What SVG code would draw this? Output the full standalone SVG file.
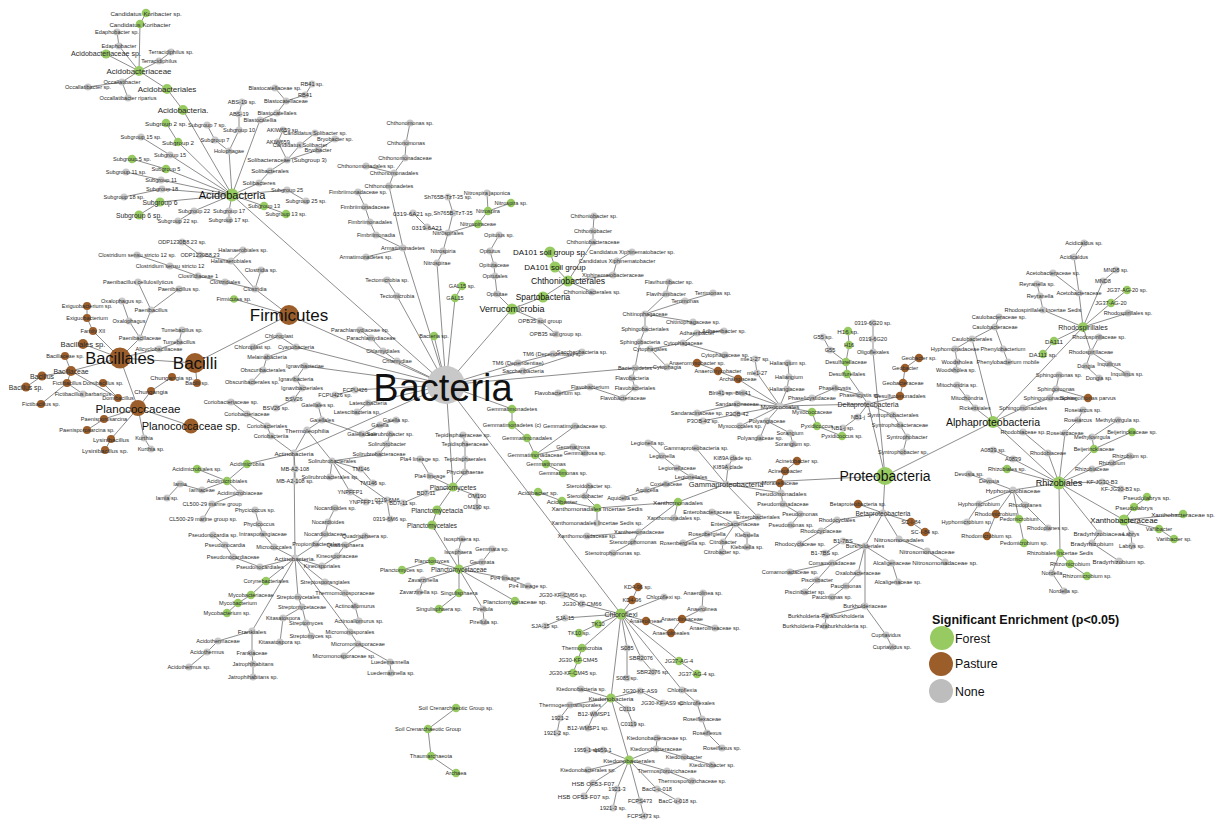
<svg xmlns="http://www.w3.org/2000/svg" width="1215" height="821" viewBox="0 0 1215 821">
<style>
text{font-family:"Liberation Sans",Arial,sans-serif;text-anchor:middle;dominant-baseline:central;fill:#2b2b2b}
#nodes{font-size:5.6px}
.c{font-size:6.2px}
.k{fill:#111}
.g{fill:#c8c8c8}
.G{fill:#97cb62}
.P{fill:#9b5e2b}
#edges path{fill:none;stroke:#808080;stroke-width:0.9}
#legend text{text-anchor:start;dominant-baseline:auto;fill:#111}
</style>
<rect width="1215" height="821" fill="#fff"/>
<g id="edges">
<path d="M146,13L140,24L139,71"/><path d="M117,32L119,46L139,71"/><path d="M106,54L139,71"/><path d="M171,52L159,61L139,71"/><path d="M88,87L122,82L139,71"/><path d="M128,98L122,82"/><path d="M139,71L167,89L183,110L232,195"/><path d="M166,123L178,142L232,195"/><path d="M141,137L170,155L232,195"/><path d="M132,159L166,169L232,195"/><path d="M126,172L161,180L232,195"/><path d="M124,197L162,189L232,195"/><path d="M139,215L160,202L232,195"/><path d="M178,221L194,211L232,195"/><path d="M229,220L229,211L232,195"/><path d="M286,214L264,206L232,195"/><path d="M306,201L287,190L232,195"/><path d="M207,125L215,140L229,151L232,195"/><path d="M242,102L239,114L239,130L229,151"/><path d="M275,88L286,101L277,113L260,120L232,195"/><path d="M312,84L305,95L286,101"/><path d="M283,130L278,142L287,160L270,171L259,183L232,195"/><path d="M315,133L300,145L287,160"/><path d="M335,139L318,150L287,160"/><path d="M232,195L446,385"/>
<path d="M182,242L200,255L231,261L255,289"/><path d="M243,250L231,261"/><path d="M137,255L170,266L198,276L225,282L255,289"/><path d="M261,270L255,289L289,315"/><path d="M234,299L289,315"/><path d="M289,315L446,385"/><path d="M289,315L195,363L197,383"/><path d="M195,363L120,358L83,344"/><path d="M87,306L87,318L93,331L120,358"/><path d="M138,282L151,310L140,338L120,358"/><path d="M179,289L151,310"/><path d="M122,301L129,321L140,338"/><path d="M182,330L179,342L159,349L120,358"/><path d="M65,356L71,371L120,358"/><path d="M26,387L42,376L71,371"/><path d="M41,404L67,383L71,371"/><path d="M83,394L67,383"/><path d="M103,383L118,398L71,371"/><path d="M120,358L138,408"/><path d="M172,377L151,391L138,408"/><path d="M191,426L138,408"/><path d="M87,430L104,419L138,408"/><path d="M105,450L111,439L138,408"/><path d="M151,449L144,438L138,408"/>
<path d="M253,347L279,336L296,347L446,385"/><path d="M296,347L267,357L263,370L252,382"/><path d="M446,385L305,366L296,379L302,388"/><path d="M276,408L294,399L302,388"/><path d="M335,395L355,390L446,385"/><path d="M357,412L368,403L446,385"/><path d="M360,330L371,338L383,351L397,361L446,385"/>
<path d="M446,385L294,453"/><path d="M294,453L307,430L322,420L362,434L380,425L396,420"/><path d="M318,405L322,420"/><path d="M307,430L332,461L379,454L387,444L390,434"/><path d="M332,461L330,477"/><path d="M332,461L361,469L373,483"/><path d="M332,461L350,492L366,502"/><path d="M332,461L387,500L390,519"/><path d="M294,453L271,436L267,426L247,414L231,402"/><path d="M294,453L295,469L295,481"/><path d="M294,453L247,464L227,481L197,469"/><path d="M227,481L202,490L180,484L167,498"/><path d="M227,481L240,493L212,504L203,519"/><path d="M294,453L295,558"/><path d="M295,558L274,547L263,534L259,524L255,510"/><path d="M295,558L260,567L233,557L225,545L213,535"/><path d="M295,558L316,544L325,534L328,522L335,508"/><path d="M295,558L322,566L337,556L345,545L365,536"/><path d="M295,558L266,581L251,595L238,603L227,613"/><path d="M295,558L325,582L345,593L355,606L359,621"/><path d="M295,558L298,597L302,607L283,618L280,642"/><path d="M302,607L306,623L311,636"/><path d="M295,558L350,632L358,644L344,656"/><path d="M358,644L390,662L391,673"/><path d="M295,558L252,631L252,653L253,664L253,677"/><path d="M252,631L218,641L207,652L189,667"/>
<path d="M456,708L428,729L431,756L456,773"/>
<path d="M446,385L453,487"/><path d="M463,435L465,444L465,459L465,472L453,487"/><path d="M420,459L430,476L453,487"/><path d="M403,503L426,493L453,487"/><path d="M477,507L477,496L453,487"/><path d="M453,487L437,510L432,525L459,569"/><path d="M462,539L458,552L459,569"/><path d="M492,549L482,562L459,569"/><path d="M402,570L432,561L459,569"/><path d="M419,592L423,580L459,569"/><path d="M439,609L459,593L459,569"/><path d="M484,622L483,609L459,569"/><path d="M528,586L505,578L459,569"/><path d="M515,601L459,569"/>
<path d="M446,385L512,409L512,425L527,438L535,455L546,464L563,473"/><path d="M575,426L535,455"/><path d="M585,453L573,447L535,455"/>
<path d="M885,476L726,484"/><path d="M696,448L726,484"/><path d="M733,458L728,467L726,484"/><path d="M797,461L785,471L780,483L781,493L726,484"/><path d="M781,493L783,504L800,514L791,525"/><path d="M726,484L758,517L735,524L707,534L683,543"/><path d="M712,512L735,524"/><path d="M735,524L723,542L722,552"/><path d="M735,524L747,535L747,547"/><path d="M726,484L691,477L677,468L662,456L648,443"/><path d="M691,477L666,484L647,490L623,498"/><path d="M726,484L678,502L674,518"/><path d="M678,502L639,532L587,536"/><path d="M639,532L633,542L613,553"/><path d="M678,502L597,508L597,523"/><path d="M597,508L585,496L589,486"/><path d="M597,508L562,501L538,492"/>
<path d="M885,476L868,404L780,406"/><path d="M780,406L738,379L718,371L697,363"/><path d="M780,406L757,373L755,359"/><path d="M780,406L787,389L789,377L788,363"/><path d="M780,406L743,393L721,393"/><path d="M780,406L737,404L697,413"/><path d="M780,406L737,414L703,421"/><path d="M780,406L740,426"/><path d="M780,406L767,421L760,438"/><path d="M767,421L790,433L793,444"/><path d="M780,406L812,398L835,388L860,395"/><path d="M780,406L812,412L817,426L842,436"/><path d="M868,404L847,374L846,362L849,345L848,331"/><path d="M846,362L830,350L823,337"/><path d="M885,476L873,352L873,339L873,323"/><path d="M868,404L900,396L903,383L905,368L919,358"/><path d="M868,404L893,415L900,425L907,437L903,452"/><path d="M868,404L858,417L843,428"/>
<path d="M885,476L993,422L1083,327"/><path d="M1083,327L1079,293L1074,257L1084,243"/><path d="M1079,293L1053,273"/><path d="M1083,327L1043,310L1040,296L1037,284"/><path d="M1083,327L1103,281L1116,270"/><path d="M1083,327L1111,303L1127,290"/><path d="M1083,327L1128,313"/><path d="M1083,327L1091,352L1099,337"/><path d="M1091,352L1086,366L1099,378"/><path d="M1091,352L1109,364L1127,374"/><path d="M1083,327L1054,341L1043,354"/><path d="M993,422L972,339L995,327L999,317"/><path d="M995,327L1003,349L1008,362"/><path d="M972,339L955,349L957,362L956,370"/><path d="M993,422L975,408L967,398L957,385"/><path d="M993,422L1023,408L1050,398L1056,389L1059,375"/><path d="M1056,389L1088,398"/><path d="M993,422L1059,483"/><path d="M1059,483L1065,433L1078,420L1083,410"/><path d="M1059,483L1048,453L1023,432"/><path d="M1059,483L1094,449L1132,432"/><path d="M1094,449L1092,437L1118,420"/><path d="M1059,483L1092,469L1112,463L1130,456"/><path d="M1059,483L1013,459L993,450"/><path d="M1059,483L1007,469"/><path d="M1059,483L1013,490L989,481L969,474"/><path d="M1013,490L979,504L967,522"/><path d="M1013,490L996,514L987,536"/><path d="M1013,490L1025,505L1048,528"/><path d="M1013,490L1019,519L1024,543"/><path d="M1059,483L1102,482L1121,489"/><path d="M1059,483L1099,533L1092,543L1119,561"/><path d="M1059,483L1124,520"/><path d="M1124,520L1134,507L1147,497"/><path d="M1124,520L1183,514"/><path d="M1124,520L1159,529L1174,539"/><path d="M1124,520L1131,534L1132,546"/><path d="M1059,483L1060,553L1070,564L1087,576"/><path d="M1060,553L1052,573L1064,591"/>
<path d="M885,476L883,513"/><path d="M858,504L883,513"/><path d="M883,513L911,522L925,532"/><path d="M883,513L837,520L821,531L800,544"/><path d="M883,513L865,546"/><path d="M865,546L843,541L825,553"/><path d="M883,513L899,539L927,551L945,562"/><path d="M865,546L832,563L790,572"/><path d="M832,563L817,580L805,592"/><path d="M865,546L858,573L846,586L832,597"/><path d="M865,546L892,563L898,582"/><path d="M865,546L865,606L826,616L825,626"/><path d="M865,606L886,635L892,647"/>
<path d="M446,385L621,614"/><path d="M621,614L632,600L638,587"/><path d="M621,614L664,597"/><path d="M621,614L582,604L563,595"/><path d="M621,614L565,618L545,626"/><path d="M621,614L598,624L579,633"/><path d="M621,614L582,648L578,660L573,673"/><path d="M621,614L646,621L671,633L682,619L702,609L703,593"/><path d="M682,619L715,628"/><path d="M621,614L627,648L627,678"/><path d="M621,614L641,658L653,672"/><path d="M621,614L679,661L697,674"/><path d="M621,614L682,690L697,703L702,719L707,733L722,748"/><path d="M621,614L611,698"/><path d="M611,698L581,689"/><path d="M611,698L640,691L663,703"/><path d="M611,698L627,709L633,724"/><path d="M611,698L570,705L560,718L557,733"/><path d="M611,698L594,714L588,728"/><path d="M611,698L629,760"/><path d="M629,760L603,750L587,750"/><path d="M629,760L656,749L657,738"/><path d="M656,749L684,757L712,765"/><path d="M629,760L667,771L692,781"/><path d="M629,760L588,770"/><path d="M629,760L593,783L584,796"/><path d="M629,760L617,789L613,808"/><path d="M629,760L657,789L678,801"/><path d="M629,760L640,801L644,816"/>
<path d="M446,385L512,309"/><path d="M512,309L497,294L495,276L494,265L490,251L499,235"/><path d="M512,309L543,297L568,281L555,267L550,252"/><path d="M568,281L593,242L593,231L594,216"/><path d="M568,281L613,275L617,261L632,252"/><path d="M568,281L592,292"/><path d="M512,309L540,321L556,334"/>
<path d="M446,385L518,363L553,354"/><path d="M446,385L523,371L582,352"/>
<path d="M446,385L635,368"/><path d="M635,368L667,367L650,349L683,343L697,333L724,331"/><path d="M683,343L725,355"/><path d="M635,368L640,342L645,329L645,314L693,322"/><path d="M645,314L666,294L669,282"/><path d="M645,314L685,301L713,293"/><path d="M635,368L632,378L635,388L623,398L590,387L558,393"/>
<path d="M446,385L437,263L443,251L448,233L478,224L488,211L511,203"/><path d="M488,211L487,193"/><path d="M448,233L453,213L448,197"/><path d="M448,233L427,227L413,213"/>
<path d="M446,385L403,248L389,186L394,173L405,158L406,143L410,123"/><path d="M394,173L366,166"/><path d="M403,248L366,257"/><path d="M403,248L376,235L370,222L365,207L358,192"/><path d="M446,385L397,296L387,280"/><path d="M446,385L455,298L462,286"/><path d="M446,385L434,336"/>
</g>
<g id="nodes">
<g id="a1" transform="translate(146,13)"><circle class="G" r="4.3"/><text class="c">Candidatus Koribacter sp.</text></g>
<g id="a2" transform="translate(140,24)"><circle class="G" r="4.3"/><text class="c">Candidatus Koribacter</text></g>
<g id="a3" transform="translate(117,32)"><circle class="g" r="3.6"/><text>Edaphobacter sp.</text></g>
<g id="a4" transform="translate(119,46)"><circle class="g" r="3.6"/><text>Edaphobacter</text></g>
<g id="a5" transform="translate(106,54)"><circle class="G" r="4.6"/><text font-size="7.1">Acidobacteriaceae sp.</text></g>
<g id="a6" transform="translate(171,52)"><circle class="g" r="3.6"/><text>Terracidiphilus sp.</text></g>
<g id="a7" transform="translate(159,61)"><circle class="g" r="3.6"/><text>Terracidiphilus</text></g>
<g id="a8" transform="translate(139,71)"><circle class="G" r="5"/><text font-size="7.9">Acidobacteriaceae</text></g>
<g id="a9" transform="translate(122,82)"><circle class="g" r="3.6"/><text>Occallatibacter</text></g>
<g id="a10" transform="translate(88,87)"><circle class="g" r="3.6"/><text>Occallatibacter sp.</text></g>
<g id="a11" transform="translate(128,98)"><circle class="g" r="3.6"/><text>Occallatibacter riparius</text></g>
<g id="a12" transform="translate(167,89)"><circle class="G" r="5"/><text font-size="8">Acidobacteriales</text></g>
<g id="a13" transform="translate(183,110)"><circle class="G" r="5"/><text font-size="8">Acidobacteria.</text></g>
<g id="a14" transform="translate(232,195)"><circle class="G" r="6.5"/><text font-size="11" class="k">Acidobacteria</text></g>
<g id="a15" transform="translate(166,123)"><circle class="G" r="4.3"/><text class="c">Subgroup 2 sp.</text></g>
<g id="a16" transform="translate(178,142)"><circle class="G" r="4.3"/><text class="c">Subgroup 2</text></g>
<g id="a17" transform="translate(141,137)"><circle class="g" r="3.6"/><text>Subgroup 15 sp.</text></g>
<g id="a18" transform="translate(170,155)"><circle class="g" r="3.6"/><text>Subgroup 15</text></g>
<g id="a19" transform="translate(132,159)"><circle class="G" r="4.3"/><text>Subgroup 5 sp.</text></g>
<g id="a20" transform="translate(166,169)"><circle class="G" r="4.3"/><text>Subgroup 5</text></g>
<g id="a21" transform="translate(126,172)"><circle class="g" r="3.6"/><text>Subgroup 11 sp.</text></g>
<g id="a22" transform="translate(161,180)"><circle class="g" r="3.6"/><text>Subgroup 11</text></g>
<g id="a23" transform="translate(162,189)"><circle class="g" r="3.6"/><text>Subgroup 18</text></g>
<g id="a24" transform="translate(124,197)"><circle class="g" r="3.6"/><text>Subgroup 18 sp.</text></g>
<g id="a25" transform="translate(160,202)"><circle class="G" r="4.6"/><text font-size="6.8">Subgroup 6</text></g>
<g id="a26" transform="translate(139,215)"><circle class="G" r="4.6"/><text font-size="6.8">Subgroup 6 sp.</text></g>
<g id="a27" transform="translate(194,211)"><circle class="g" r="3.6"/><text>Subgroup 22</text></g>
<g id="a28" transform="translate(178,221)"><circle class="g" r="3.6"/><text>Subgroup 22 sp.</text></g>
<g id="a29" transform="translate(229,211)"><circle class="g" r="3.6"/><text>Subgroup 17</text></g>
<g id="a30" transform="translate(229,220)"><circle class="g" r="3.6"/><text>Subgroup 17 sp.</text></g>
<g id="a31" transform="translate(264,206)"><circle class="G" r="4.3"/><text>Subgroup 13</text></g>
<g id="a32" transform="translate(286,214)"><circle class="G" r="4.3"/><text>Subgroup 13 sp.</text></g>
<g id="a33" transform="translate(287,190)"><circle class="g" r="3.6"/><text>Subgroup 25</text></g>
<g id="a34" transform="translate(306,201)"><circle class="g" r="3.6"/><text>Subgroup 25 sp.</text></g>
<g id="a35" transform="translate(207,125)"><circle class="g" r="3.6"/><text>Subgroup 7 sp.</text></g>
<g id="a36" transform="translate(215,140)"><circle class="g" r="3.6"/><text>Subgroup 7</text></g>
<g id="a37" transform="translate(239,130)"><circle class="g" r="3.6"/><text>Subgroup 10</text></g>
<g id="a38" transform="translate(239,114)"><circle class="g" r="3.6"/><text>ABS-19</text></g>
<g id="a39" transform="translate(242,102)"><circle class="g" r="3.6"/><text>ABS-19 sp.</text></g>
<g id="a40" transform="translate(229,151)"><circle class="g" r="3.6"/><text>Holophagae</text></g>
<g id="a41" transform="translate(260,120)"><circle class="g" r="3.6"/><text>Blastocatellia</text></g>
<g id="a42" transform="translate(277,113)"><circle class="g" r="3.6"/><text>Blastocatellales</text></g>
<g id="a43" transform="translate(286,101)"><circle class="g" r="3.6"/><text>Blastocatellaceae</text></g>
<g id="a44" transform="translate(275,88)"><circle class="g" r="3.6"/><text>Blastocatellaceae sp.</text></g>
<g id="a45" transform="translate(305,95)"><circle class="g" r="3.6"/><text>RB41</text></g>
<g id="a46" transform="translate(312,84)"><circle class="g" r="3.6"/><text>RB41 sp.</text></g>
<g id="a47" transform="translate(259,183)"><circle class="g" r="3.6"/><text font-size="6">Solibacteres</text></g>
<g id="a48" transform="translate(270,171)"><circle class="g" r="3.6"/><text font-size="6">Solibacterales</text></g>
<g id="a49" transform="translate(287,160)"><circle class="g" r="3.6"/><text font-size="6">Solibacteraceae (Subgroup 3)</text></g>
<g id="a50" transform="translate(278,142)"><circle class="g" r="3.6"/><text>AKIW659</text></g>
<g id="a51" transform="translate(283,130)"><circle class="g" r="3.6"/><text>AKIW659 sp.</text></g>
<g id="a52" transform="translate(300,145)"><circle class="g" r="3.6"/><text>Candidatus Solibacter</text></g>
<g id="a53" transform="translate(315,133)"><circle class="g" r="3.6"/><text>Candidatus Solibacter sp.</text></g>
<g id="a54" transform="translate(318,150)"><circle class="g" r="3.6"/><text>Bryobacter</text></g>
<g id="a55" transform="translate(335,139)"><circle class="g" r="3.6"/><text>Bryobacter sp.</text></g>
<g id="f1" transform="translate(182,242)"><circle class="g" r="3.6"/><text>ODP1230B8.23 sp.</text></g>
<g id="f2" transform="translate(200,255)"><circle class="g" r="3.6"/><text>ODP1230B8.23</text></g>
<g id="f3" transform="translate(243,250)"><circle class="g" r="3.6"/><text>Halanaerobiales sp.</text></g>
<g id="f4" transform="translate(231,261)"><circle class="g" r="3.6"/><text>Halanaerobiales</text></g>
<g id="f5" transform="translate(137,255)"><circle class="g" r="3.6"/><text>Clostridium sensu stricto 12 sp.</text></g>
<g id="f6" transform="translate(170,266)"><circle class="g" r="3.6"/><text>Clostridium sensu stricto 12</text></g>
<g id="f7" transform="translate(198,276)"><circle class="g" r="3.6"/><text>Clostridiaceae 1</text></g>
<g id="f8" transform="translate(225,282)"><circle class="g" r="3.6"/><text>Clostridiales</text></g>
<g id="f9" transform="translate(261,270)"><circle class="g" r="3.6"/><text>Clostridia sp.</text></g>
<g id="f10" transform="translate(255,289)"><circle class="g" r="3.6"/><text>Clostridia</text></g>
<g id="f11" transform="translate(234,299)"><circle class="G" r="3.8"/><text>Firmicutes sp.</text></g>
<g id="f12" transform="translate(289,315)"><circle class="P" r="10"/><text font-size="17" class="k">Firmicutes</text></g>
<g id="f13" transform="translate(195,363)"><circle class="P" r="10"/><text font-size="17" class="k">Bacilli</text></g>
<g id="f14" transform="translate(197,383)"><circle class="P" r="4"/><text>Bacilli sp.</text></g>
<g id="f15" transform="translate(120,358)"><circle class="P" r="10.5"/><text font-size="16.5" class="k">Bacillales</text></g>
<g id="f16" transform="translate(83,344)"><circle class="P" r="5"/><text font-size="7.7">Bacillales sp.</text></g>
<g id="f17" transform="translate(93,331)"><circle class="P" r="4"/><text>Family XII</text></g>
<g id="f18" transform="translate(87,318)"><circle class="P" r="4"/><text>Exiguobacterium</text></g>
<g id="f19" transform="translate(87,306)"><circle class="P" r="4"/><text>Exiguobacterium sp.</text></g>
<g id="f20" transform="translate(140,338)"><circle class="g" r="3.6"/><text>Paenibacillaceae</text></g>
<g id="f21" transform="translate(151,310)"><circle class="g" r="3.6"/><text>Paenibacillus</text></g>
<g id="f22" transform="translate(138,282)"><circle class="g" r="3.6"/><text>Paenibacillus cellulosilyticus</text></g>
<g id="f23" transform="translate(179,289)"><circle class="g" r="3.6"/><text>Paenibacillus sp.</text></g>
<g id="f24" transform="translate(129,321)"><circle class="g" r="3.6"/><text>Oxalophagus</text></g>
<g id="f25" transform="translate(122,301)"><circle class="g" r="3.6"/><text>Oxalophagus sp.</text></g>
<g id="f26" transform="translate(159,349)"><circle class="g" r="3.6"/><text>Alicyclobacillaceae</text></g>
<g id="f27" transform="translate(179,342)"><circle class="g" r="3.6"/><text>Tumebacillus</text></g>
<g id="f28" transform="translate(182,330)"><circle class="g" r="3.6"/><text>Tumebacillus sp.</text></g>
<g id="f29" transform="translate(71,371)"><circle class="P" r="5"/><text font-size="6.9">Bacillaceae</text></g>
<g id="f30" transform="translate(65,356)"><circle class="P" r="4"/><text>Bacillaceae sp.</text></g>
<g id="f31" transform="translate(42,376)"><circle class="P" r="4.5"/><text font-size="7">Bacillus</text></g>
<g id="f32" transform="translate(26,387)"><circle class="P" r="4.5"/><text font-size="6.8">Bacillus sp.</text></g>
<g id="f33" transform="translate(67,383)"><circle class="P" r="4"/><text>Fictibacillus</text></g>
<g id="f34" transform="translate(83,394)"><circle class="g" r="3.6"/><text>Fictibacillus barbaricus</text></g>
<g id="f35" transform="translate(41,404)"><circle class="P" r="4"/><text>Fictibacillus sp.</text></g>
<g id="f36" transform="translate(103,383)"><circle class="P" r="4"/><text>Domibacillus sp.</text></g>
<g id="f37" transform="translate(118,398)"><circle class="P" r="4"/><text>Domibacillus</text></g>
<g id="f38" transform="translate(172,377)"><circle class="P" r="4"/><text class="c">Chungangia sp.</text></g>
<g id="f39" transform="translate(151,391)"><circle class="P" r="4"/><text class="c">Chungangia</text></g>
<g id="f40" transform="translate(138,408)"><circle class="P" r="8"/><text font-size="11.6" class="k">Planococcaceae</text></g>
<g id="f41" transform="translate(191,426)"><circle class="P" r="7.5"/><text font-size="11" class="k">Planococcaceae sp.</text></g>
<g id="f42" transform="translate(104,419)"><circle class="P" r="4"/><text>Paenisporosarcina</text></g>
<g id="f43" transform="translate(87,430)"><circle class="P" r="4"/><text>Paenisporosarcina sp.</text></g>
<g id="f44" transform="translate(111,439)"><circle class="P" r="4"/><text class="c">Lysinibacillus</text></g>
<g id="f45" transform="translate(105,450)"><circle class="P" r="4"/><text class="c">Lysinibacillus sp.</text></g>
<g id="f46" transform="translate(144,438)"><circle class="g" r="3.6"/><text>Kurthia</text></g>
<g id="f47" transform="translate(151,449)"><circle class="g" r="3.6"/><text>Kurthia sp.</text></g>
<g id="c1" transform="translate(279,336)"><circle class="g" r="3.6"/><text>Chloroplast</text></g>
<g id="c2" transform="translate(253,347)"><circle class="g" r="3.6"/><text>Chloroplast sp.</text></g>
<g id="c3" transform="translate(296,347)"><circle class="g" r="3.6"/><text>Cyanobacteria</text></g>
<g id="c4" transform="translate(267,357)"><circle class="g" r="3.6"/><text>Melainabacteria</text></g>
<g id="c5" transform="translate(263,370)"><circle class="g" r="3.6"/><text>Obscuribacterales</text></g>
<g id="c6" transform="translate(252,382)"><circle class="g" r="3.6"/><text>Obscuribacterales sp.</text></g>
<g id="c7" transform="translate(305,366)"><circle class="g" r="3.6"/><text>Ignavibacteriae</text></g>
<g id="c8" transform="translate(296,379)"><circle class="g" r="3.6"/><text>Ignavibacteria</text></g>
<g id="c9" transform="translate(302,388)"><circle class="g" r="3.6"/><text>Ignavibacteriales</text></g>
<g id="c10" transform="translate(355,390)"><circle class="g" r="3.6"/><text>FCPU426</text></g>
<g id="c11" transform="translate(335,395)"><circle class="g" r="3.6"/><text>FCPU426 sp.</text></g>
<g id="c12" transform="translate(294,399)"><circle class="g" r="3.6"/><text>BSV26</text></g>
<g id="c13" transform="translate(276,408)"><circle class="g" r="3.6"/><text>BSV26 sp.</text></g>
<g id="c14" transform="translate(368,403)"><circle class="g" r="3.6"/><text>Latescibacteria</text></g>
<g id="c15" transform="translate(357,412)"><circle class="g" r="3.6"/><text>Latescibacteria sp.</text></g>
<g id="c16" transform="translate(360,330)"><circle class="g" r="3.6"/><text>Parachlamydiaceae sp.</text></g>
<g id="c17" transform="translate(371,338)"><circle class="g" r="3.6"/><text>Parachlamydiaceae</text></g>
<g id="c18" transform="translate(383,351)"><circle class="g" r="3.6"/><text>Chlamydiales</text></g>
<g id="c19" transform="translate(397,361)"><circle class="g" r="3.6"/><text>Chlamydiae</text></g>
<g id="t1" transform="translate(294,453)"><circle class="g" r="3.6"/><text font-size="6.2">Actinobacteria</text></g>
<g id="t2" transform="translate(307,430)"><circle class="g" r="3.6"/><text font-size="6.2">Thermoleophilia</text></g>
<g id="t3" transform="translate(318,405)"><circle class="g" r="3.6"/><text>Gaiellales sp.</text></g>
<g id="t4" transform="translate(322,420)"><circle class="g" r="3.6"/><text>Gaiellales</text></g>
<g id="t5" transform="translate(396,420)"><circle class="g" r="3.6"/><text>Gaiella sp.</text></g>
<g id="t6" transform="translate(380,425)"><circle class="g" r="3.6"/><text>Gaiella</text></g>
<g id="t7" transform="translate(362,434)"><circle class="g" r="3.6"/><text>Gaiellaceae</text></g>
<g id="t8" transform="translate(390,434)"><circle class="g" r="3.6"/><text>Solirubrobacter sp.</text></g>
<g id="t9" transform="translate(387,444)"><circle class="g" r="3.6"/><text>Solirubrobacter</text></g>
<g id="t10" transform="translate(379,454)"><circle class="g" r="3.6"/><text>Solirubrobacteraceae</text></g>
<g id="t11" transform="translate(332,461)"><circle class="g" r="3.6"/><text>Solirubrobacterales</text></g>
<g id="t12" transform="translate(330,477)"><circle class="g" r="3.6"/><text>Solirubrobacterales sp.</text></g>
<g id="t13" transform="translate(361,469)"><circle class="g" r="3.6"/><text>TM146</text></g>
<g id="t14" transform="translate(373,483)"><circle class="g" r="3.6"/><text>TM146 sp.</text></g>
<g id="t15" transform="translate(350,492)"><circle class="g" r="3.6"/><text>YNPFFP1</text></g>
<g id="t16" transform="translate(366,502)"><circle class="g" r="3.6"/><text>YNPFFP1 sp.</text></g>
<g id="t17" transform="translate(387,500)"><circle class="g" r="3.6"/><text>0319-6M6</text></g>
<g id="t18" transform="translate(390,519)"><circle class="g" r="3.6"/><text>0319-6M6 sp.</text></g>
<g id="t19" transform="translate(231,402)"><circle class="g" r="3.6"/><text>Coriobacteriaceae sp.</text></g>
<g id="t20" transform="translate(247,414)"><circle class="g" r="3.6"/><text>Coriobacteriaceae</text></g>
<g id="t21" transform="translate(267,426)"><circle class="g" r="3.6"/><text>Coriobacteriales</text></g>
<g id="t22" transform="translate(271,436)"><circle class="g" r="3.6"/><text>Coriobacteriia</text></g>
<g id="t23" transform="translate(295,469)"><circle class="g" r="3.6"/><text>MB-A2-108</text></g>
<g id="t24" transform="translate(295,481)"><circle class="g" r="3.6"/><text>MB-A2-108 sp.</text></g>
<g id="t25" transform="translate(247,464)"><circle class="G" r="4.2"/><text>Acidimicrobiia</text></g>
<g id="t26" transform="translate(227,481)"><circle class="G" r="4.2"/><text>Acidimicrobiales</text></g>
<g id="t27" transform="translate(197,469)"><circle class="G" r="4.2"/><text>Acidimicrobiales sp.</text></g>
<g id="t28" transform="translate(240,493)"><circle class="g" r="3.6"/><text>Acidimicrobiaceae</text></g>
<g id="t29" transform="translate(180,484)"><circle class="g" r="3.6"/><text>Iamia</text></g>
<g id="t30" transform="translate(202,490)"><circle class="g" r="3.6"/><text>Iamiaceae</text></g>
<g id="t31" transform="translate(167,498)"><circle class="g" r="3.6"/><text>Iamia sp.</text></g>
<g id="t32" transform="translate(212,504)"><circle class="g" r="3.6"/><text>CL500-29 marine group</text></g>
<g id="t33" transform="translate(203,519)"><circle class="g" r="3.6"/><text>CL500-29 marine group sp.</text></g>
<g id="t34" transform="translate(255,510)"><circle class="g" r="3.6"/><text>Phycicoccus sp.</text></g>
<g id="t35" transform="translate(259,524)"><circle class="g" r="3.6"/><text>Phycicoccus</text></g>
<g id="t36" transform="translate(263,534)"><circle class="g" r="3.6"/><text>Intrasporangiaceae</text></g>
<g id="t37" transform="translate(274,547)"><circle class="g" r="3.6"/><text>Micrococcales</text></g>
<g id="t38" transform="translate(213,535)"><circle class="g" r="3.6"/><text>Pseudonocardia sp.</text></g>
<g id="t39" transform="translate(225,545)"><circle class="g" r="3.6"/><text>Pseudonocardia</text></g>
<g id="t40" transform="translate(233,557)"><circle class="g" r="3.6"/><text>Pseudonocardiaceae</text></g>
<g id="t41" transform="translate(260,567)"><circle class="g" r="3.6"/><text>Pseudonocardiales</text></g>
<g id="t42" transform="translate(295,558)"><circle class="g" r="3.6"/><text font-size="6.2">Actinobacteria.</text></g>
<g id="t43" transform="translate(335,508)"><circle class="g" r="3.6"/><text>Nocardioides sp.</text></g>
<g id="t44" transform="translate(328,522)"><circle class="g" r="3.6"/><text>Nocardioides</text></g>
<g id="t45" transform="translate(325,534)"><circle class="g" r="3.6"/><text>Nocardioidaceae</text></g>
<g id="t46" transform="translate(316,544)"><circle class="g" r="3.6"/><text>Propionibacteriales</text></g>
<g id="t47" transform="translate(365,536)"><circle class="g" r="3.6"/><text>Quadrisphaera sp.</text></g>
<g id="t48" transform="translate(345,545)"><circle class="g" r="3.6"/><text>Quadrisphaera</text></g>
<g id="t49" transform="translate(337,556)"><circle class="g" r="3.6"/><text>Kineosporiaceae</text></g>
<g id="t50" transform="translate(322,566)"><circle class="g" r="3.6"/><text>Kineosporiales</text></g>
<g id="t51" transform="translate(266,581)"><circle class="G" r="4.2"/><text>Corynebacteriales</text></g>
<g id="t52" transform="translate(251,595)"><circle class="G" r="4.2"/><text>Mycobacteriaceae</text></g>
<g id="t53" transform="translate(238,603)"><circle class="G" r="4.2"/><text>Mycobacterium</text></g>
<g id="t54" transform="translate(227,613)"><circle class="G" r="4.2"/><text>Mycobacterium sp.</text></g>
<g id="t55" transform="translate(325,582)"><circle class="g" r="3.6"/><text>Streptosporangiales</text></g>
<g id="t56" transform="translate(345,593)"><circle class="g" r="3.6"/><text>Thermomonosporaceae</text></g>
<g id="t57" transform="translate(298,597)"><circle class="g" r="3.6"/><text>Streptomycetales</text></g>
<g id="t58" transform="translate(302,607)"><circle class="g" r="3.6"/><text>Streptomycetaceae</text></g>
<g id="t59" transform="translate(283,618)"><circle class="g" r="3.6"/><text>Kitasatospora</text></g>
<g id="t60" transform="translate(280,642)"><circle class="g" r="3.6"/><text>Kitasatospora sp.</text></g>
<g id="t61" transform="translate(306,623)"><circle class="g" r="3.6"/><text>Streptomyces</text></g>
<g id="t62" transform="translate(311,636)"><circle class="g" r="3.6"/><text>Streptomyces sp.</text></g>
<g id="t63" transform="translate(355,606)"><circle class="g" r="3.6"/><text>Actinoallomurus</text></g>
<g id="t64" transform="translate(359,621)"><circle class="g" r="3.6"/><text>Actinoallomurus sp.</text></g>
<g id="t65" transform="translate(350,632)"><circle class="g" r="3.6"/><text>Micromonosporales</text></g>
<g id="t66" transform="translate(358,644)"><circle class="g" r="3.6"/><text>Micromonosporaceae</text></g>
<g id="t67" transform="translate(344,656)"><circle class="g" r="3.6"/><text>Micromonosporaceae sp.</text></g>
<g id="t68" transform="translate(390,662)"><circle class="g" r="3.6"/><text>Luedemannella</text></g>
<g id="t69" transform="translate(391,673)"><circle class="g" r="3.6"/><text>Luedemannella sp.</text></g>
<g id="t70" transform="translate(252,631)"><circle class="g" r="3.6"/><text font-size="6.2">Frankiales</text></g>
<g id="t71" transform="translate(252,653)"><circle class="g" r="3.6"/><text>Frankiaceae</text></g>
<g id="t72" transform="translate(253,664)"><circle class="g" r="3.6"/><text>Jatrophihabitans</text></g>
<g id="t73" transform="translate(253,677)"><circle class="g" r="3.6"/><text>Jatrophihabitans sp.</text></g>
<g id="t74" transform="translate(218,641)"><circle class="g" r="3.6"/><text>Acidothermaceae</text></g>
<g id="t75" transform="translate(207,652)"><circle class="g" r="3.6"/><text>Acidothermus</text></g>
<g id="t76" transform="translate(189,667)"><circle class="g" r="3.6"/><text>Acidothermus sp.</text></g>
<g id="r1" transform="translate(456,708)"><circle class="G" r="4.2"/><text>Soil Crenarchaeotic Group sp.</text></g>
<g id="r2" transform="translate(428,729)"><circle class="G" r="4.2"/><text>Soil Crenarchaeotic Group</text></g>
<g id="r3" transform="translate(431,756)"><circle class="G" r="4.2"/><text>Thaumarchaeota</text></g>
<g id="r4" transform="translate(456,773)"><circle class="G" r="4.2"/><text>Archaea</text></g>
<g id="p1" transform="translate(463,435)"><circle class="g" r="3.6"/><text>Tepidisphaeraceae sp.</text></g>
<g id="p2" transform="translate(465,444)"><circle class="g" r="3.6"/><text>Tepidisphaeraceae</text></g>
<g id="p3" transform="translate(465,459)"><circle class="g" r="3.6"/><text>Tepidisphaerales</text></g>
<g id="p4" transform="translate(465,472)"><circle class="g" r="3.6"/><text>Phycisphaerae</text></g>
<g id="p5" transform="translate(420,459)"><circle class="g" r="3.6"/><text>Pla4 lineage sp.</text></g>
<g id="p6" transform="translate(430,476)"><circle class="g" r="3.6"/><text>Pla4 lineage</text></g>
<g id="p7" transform="translate(453,487)"><circle class="G" r="4.6"/><text font-size="6.6">Planctomycetes</text></g>
<g id="p8" transform="translate(426,493)"><circle class="g" r="3.6"/><text>BD7-11</text></g>
<g id="p9" transform="translate(403,503)"><circle class="g" r="3.6"/><text>BD7-11 sp.</text></g>
<g id="p10" transform="translate(477,496)"><circle class="g" r="3.6"/><text>OM190</text></g>
<g id="p11" transform="translate(477,507)"><circle class="g" r="3.6"/><text>OM190 sp.</text></g>
<g id="p12" transform="translate(437,510)"><circle class="G" r="4.6"/><text font-size="6.6">Planctomycetacia</text></g>
<g id="p13" transform="translate(432,525)"><circle class="G" r="4.6"/><text font-size="6.4">Planctomycetales</text></g>
<g id="p14" transform="translate(462,539)"><circle class="g" r="3.6"/><text>Isosphaera sp.</text></g>
<g id="p15" transform="translate(458,552)"><circle class="g" r="3.6"/><text>Isosphaera</text></g>
<g id="p16" transform="translate(492,549)"><circle class="g" r="3.6"/><text>Gemmata sp.</text></g>
<g id="p17" transform="translate(482,562)"><circle class="g" r="3.6"/><text>Gemmata</text></g>
<g id="p18" transform="translate(432,561)"><circle class="G" r="4.2"/><text>Planctomyces</text></g>
<g id="p19" transform="translate(402,570)"><circle class="G" r="4.2"/><text>Planctomyces sp.</text></g>
<g id="p20" transform="translate(459,569)"><circle class="G" r="4.6"/><text font-size="6.4">Planctomycetaceae</text></g>
<g id="p21" transform="translate(423,580)"><circle class="g" r="3.6"/><text>Zavarzinella</text></g>
<g id="p22" transform="translate(419,592)"><circle class="g" r="3.6"/><text>Zavarzinella sp.</text></g>
<g id="p23" transform="translate(459,593)"><circle class="G" r="4.2"/><text>Singulisphaera</text></g>
<g id="p24" transform="translate(439,609)"><circle class="G" r="4.2"/><text>Singulisphaera sp.</text></g>
<g id="p25" transform="translate(483,609)"><circle class="g" r="3.6"/><text>Pirellula</text></g>
<g id="p26" transform="translate(484,622)"><circle class="g" r="3.6"/><text>Pirellula sp.</text></g>
<g id="p27" transform="translate(505,578)"><circle class="g" r="3.6"/><text>Pir4 lineage</text></g>
<g id="p28" transform="translate(528,586)"><circle class="g" r="3.6"/><text>Pir4 lineage sp.</text></g>
<g id="p29" transform="translate(515,601)"><circle class="G" r="4.2"/><text class="c">Planctomycetaceae sp.</text></g>
<g id="m1" transform="translate(512,409)"><circle class="G" r="4.2"/><text>Gemmatimonadetes</text></g>
<g id="m2" transform="translate(512,425)"><circle class="G" r="4.2"/><text>Gemmatimonadetes (c)</text></g>
<g id="m3" transform="translate(575,426)"><circle class="g" r="3.6"/><text>Gemmatimonadaceae sp.</text></g>
<g id="m4" transform="translate(527,438)"><circle class="G" r="4.2"/><text>Gemmatimonadales</text></g>
<g id="m5" transform="translate(535,455)"><circle class="G" r="4.2"/><text>Gemmatimonadaceae</text></g>
<g id="m6" transform="translate(573,447)"><circle class="g" r="3.6"/><text>Gemmatirosa</text></g>
<g id="m7" transform="translate(585,453)"><circle class="g" r="3.6"/><text>Gemmatirosa sp.</text></g>
<g id="m8" transform="translate(546,464)"><circle class="G" r="4.2"/><text>Gemmatimonas</text></g>
<g id="m9" transform="translate(563,473)"><circle class="G" r="4.2"/><text>Gemmatimonas sp.</text></g>
<g id="g1" transform="translate(726,484)"><circle class="g" r="3.6"/><text font-size="7.5">Gammaproteobacteria</text></g>
<g id="g2" transform="translate(696,448)"><circle class="g" r="3.6"/><text>Gammaproteobacteria sp.</text></g>
<g id="g3" transform="translate(733,458)"><circle class="g" r="3.6"/><text>KI89A clade sp.</text></g>
<g id="g4" transform="translate(728,467)"><circle class="g" r="3.6"/><text>KI89A clade</text></g>
<g id="g5" transform="translate(780,483)"><circle class="P" r="4.2"/><text>Moraxellaceae</text></g>
<g id="g6" transform="translate(785,471)"><circle class="P" r="4.2"/><text>Acinetobacter</text></g>
<g id="g7" transform="translate(797,461)"><circle class="P" r="4.2"/><text>Acinetobacter sp.</text></g>
<g id="g8" transform="translate(781,493)"><circle class="g" r="3.6"/><text font-size="6.2">Pseudomonadales</text></g>
<g id="g9" transform="translate(783,504)"><circle class="g" r="3.6"/><text>Pseudomonadaceae</text></g>
<g id="g10" transform="translate(800,514)"><circle class="g" r="3.6"/><text>Pseudomonas</text></g>
<g id="g11" transform="translate(791,525)"><circle class="g" r="3.6"/><text>Pseudomonas sp.</text></g>
<g id="g12" transform="translate(758,517)"><circle class="g" r="3.6"/><text>Enterobacteriales</text></g>
<g id="g13" transform="translate(712,512)"><circle class="g" r="3.6"/><text>Enterobacteriaceae sp.</text></g>
<g id="g14" transform="translate(735,524)"><circle class="g" r="3.6"/><text>Enterobacteriaceae</text></g>
<g id="g15" transform="translate(707,534)"><circle class="g" r="3.6"/><text>Rosenbergiella</text></g>
<g id="g16" transform="translate(683,543)"><circle class="g" r="3.6"/><text>Rosenbergiella sp.</text></g>
<g id="g17" transform="translate(723,542)"><circle class="g" r="3.6"/><text>Citrobacter</text></g>
<g id="g18" transform="translate(722,552)"><circle class="g" r="3.6"/><text>Citrobacter sp.</text></g>
<g id="g19" transform="translate(747,535)"><circle class="g" r="3.6"/><text>Klebsiella</text></g>
<g id="g20" transform="translate(747,547)"><circle class="g" r="3.6"/><text>Klebsiella sp.</text></g>
<g id="g21" transform="translate(691,477)"><circle class="g" r="3.6"/><text>Legionellales</text></g>
<g id="g22" transform="translate(677,468)"><circle class="g" r="3.6"/><text>Legionellaceae</text></g>
<g id="g23" transform="translate(662,456)"><circle class="g" r="3.6"/><text>Legionella</text></g>
<g id="g24" transform="translate(648,443)"><circle class="g" r="3.6"/><text>Legionella sp.</text></g>
<g id="g25" transform="translate(666,484)"><circle class="g" r="3.6"/><text>Coxiellaceae</text></g>
<g id="g26" transform="translate(647,490)"><circle class="g" r="3.6"/><text>Aquicella</text></g>
<g id="g27" transform="translate(623,498)"><circle class="g" r="3.6"/><text>Aquicella sp.</text></g>
<g id="g28" transform="translate(678,502)"><circle class="G" r="4.2"/><text class="c">Xanthomonadales</text></g>
<g id="g29" transform="translate(674,518)"><circle class="g" r="3.6"/><text>Xanthomonadales sp.</text></g>
<g id="g30" transform="translate(639,532)"><circle class="g" r="3.6"/><text>Xanthomonadaceae</text></g>
<g id="g31" transform="translate(587,536)"><circle class="g" r="3.6"/><text>Xanthomonadaceae sp.</text></g>
<g id="g32" transform="translate(633,542)"><circle class="g" r="3.6"/><text>Stenotrophomonas</text></g>
<g id="g33" transform="translate(613,553)"><circle class="g" r="3.6"/><text>Stenotrophomonas sp.</text></g>
<g id="g34" transform="translate(597,508)"><circle class="G" r="4.2"/><text class="c">Xanthomonadales Incertae Sedis</text></g>
<g id="g35" transform="translate(597,523)"><circle class="g" r="3.6"/><text>Xanthomonadales Incertae Sedis sp.</text></g>
<g id="g36" transform="translate(585,496)"><circle class="g" r="3.6"/><text>Steroidobacter</text></g>
<g id="g37" transform="translate(589,486)"><circle class="g" r="3.6"/><text>Steroidobacter sp.</text></g>
<g id="g38" transform="translate(562,501)"><circle class="G" r="4.2"/><text class="c">Acidibacter</text></g>
<g id="g39" transform="translate(538,492)"><circle class="G" r="4.2"/><text class="c">Acidibacter sp.</text></g>
<g id="d1" transform="translate(868,404)"><circle class="g" r="3.6"/><text font-size="7">Deltaproteobacteria</text></g>
<g id="d2" transform="translate(780,406)"><circle class="g" r="3.6"/><text font-size="6.2">Myxococcales</text></g>
<g id="d3" transform="translate(697,363)"><circle class="P" r="4.2"/><text>Anaeromyxobacter sp.</text></g>
<g id="d4" transform="translate(718,371)"><circle class="P" r="4.2"/><text>Anaeromyxobacter</text></g>
<g id="d5" transform="translate(738,379)"><circle class="P" r="4.2"/><text>Archangiaceae</text></g>
<g id="d6" transform="translate(755,359)"><circle class="g" r="3.6"/><text>mle1-27 sp.</text></g>
<g id="d7" transform="translate(757,373)"><circle class="g" r="3.6"/><text>mle1-27</text></g>
<g id="d8" transform="translate(788,363)"><circle class="g" r="3.6"/><text>Haliangium sp.</text></g>
<g id="d9" transform="translate(789,377)"><circle class="g" r="3.6"/><text>Haliangium</text></g>
<g id="d10" transform="translate(787,389)"><circle class="g" r="3.6"/><text>Haliangiaceae</text></g>
<g id="d11" transform="translate(721,393)"><circle class="g" r="3.6"/><text>Blrii41 sp.</text></g>
<g id="d12" transform="translate(743,393)"><circle class="g" r="3.6"/><text>Blrii41</text></g>
<g id="d13" transform="translate(737,404)"><circle class="g" r="3.6"/><text>Sandaracinaceae</text></g>
<g id="d14" transform="translate(697,413)"><circle class="g" r="3.6"/><text>Sandaracinaceae sp.</text></g>
<g id="d15" transform="translate(737,414)"><circle class="g" r="3.6"/><text>P3OB-42</text></g>
<g id="d16" transform="translate(703,421)"><circle class="g" r="3.6"/><text>P3OB-42 sp.</text></g>
<g id="d17" transform="translate(740,426)"><circle class="g" r="3.6"/><text>Myxococcales sp.</text></g>
<g id="d18" transform="translate(767,421)"><circle class="g" r="3.6"/><text>Polyangiaceae</text></g>
<g id="d19" transform="translate(760,438)"><circle class="g" r="3.6"/><text>Polyangiaceae sp.</text></g>
<g id="d20" transform="translate(790,433)"><circle class="g" r="3.6"/><text>Sorangium</text></g>
<g id="d21" transform="translate(793,444)"><circle class="g" r="3.6"/><text>Sorangium sp.</text></g>
<g id="d22" transform="translate(835,388)"><circle class="g" r="3.6"/><text>Phaselicystis</text></g>
<g id="d23" transform="translate(812,398)"><circle class="g" r="3.6"/><text>Phaselicystidaceae</text></g>
<g id="d46" transform="translate(860,395)"><circle class="g" r="3.6"/><text>Phaselicystis sp.</text></g>
<g id="d24" transform="translate(812,412)"><circle class="G" r="4.2"/><text>Myxococcaceae</text></g>
<g id="d25" transform="translate(817,426)"><circle class="G" r="4.2"/><text>Pyxidicoccus</text></g>
<g id="d26" transform="translate(842,436)"><circle class="G" r="4.2"/><text>Pyxidicoccus sp.</text></g>
<g id="d27" transform="translate(823,337)"><circle class="g" r="3.6"/><text>G55 sp.</text></g>
<g id="d28" transform="translate(830,350)"><circle class="g" r="3.6"/><text>G55</text></g>
<g id="d29" transform="translate(848,331)"><circle class="G" r="4.2"/><text class="c">H16 sp.</text></g>
<g id="d30" transform="translate(849,345)"><circle class="G" r="4.2"/><text>H16</text></g>
<g id="d31" transform="translate(846,362)"><circle class="G" r="4.2"/><text>Desulfurellaceae</text></g>
<g id="d32" transform="translate(847,374)"><circle class="G" r="4.2"/><text>Desulfurellales</text></g>
<g id="d33" transform="translate(873,323)"><circle class="g" r="3.6"/><text>0319-6G20 sp.</text></g>
<g id="d34" transform="translate(873,339)"><circle class="g" r="3.6"/><text>0319-6G20</text></g>
<g id="d35" transform="translate(873,352)"><circle class="g" r="3.6"/><text>Oligoflexales</text></g>
<g id="d36" transform="translate(858,417)"><circle class="g" r="3.6"/><text>NB1-j</text></g>
<g id="d37" transform="translate(843,428)"><circle class="g" r="3.6"/><text>NB1-j sp.</text></g>
<g id="d38" transform="translate(919,358)"><circle class="P" r="4.2"/><text>Geobacter sp.</text></g>
<g id="d39" transform="translate(905,368)"><circle class="P" r="4.2"/><text>Geobacter</text></g>
<g id="d40" transform="translate(903,383)"><circle class="P" r="4.2"/><text>Geobacteraceae</text></g>
<g id="d41" transform="translate(900,396)"><circle class="P" r="4.2"/><text>Desulfuromonadales</text></g>
<g id="d42" transform="translate(893,415)"><circle class="g" r="3.6"/><text>Syntrophobacterales</text></g>
<g id="d43" transform="translate(900,425)"><circle class="g" r="3.6"/><text>Syntrophobacteraceae</text></g>
<g id="d44" transform="translate(907,437)"><circle class="g" r="3.6"/><text>Syntrophobacter</text></g>
<g id="d45" transform="translate(903,452)"><circle class="g" r="3.6"/><text>Syntrophobacter sp.</text></g>
<g id="h1" transform="translate(993,422)"><circle class="G" r="6"/><text font-size="10.5" class="k">Alphaproteobacteria</text></g>
<g id="h2" transform="translate(1083,327)"><circle class="G" r="4.8"/><text font-size="7">Rhodospirillales</text></g>
<g id="h3" transform="translate(1084,243)"><circle class="g" r="3.6"/><text>Acidicaldus sp.</text></g>
<g id="h4" transform="translate(1074,257)"><circle class="g" r="3.6"/><text>Acidicaldus</text></g>
<g id="h5" transform="translate(1053,273)"><circle class="g" r="3.6"/><text>Acetobacteraceae sp.</text></g>
<g id="h6" transform="translate(1079,293)"><circle class="g" r="3.6"/><text>Acetobacteraceae</text></g>
<g id="h7" transform="translate(1037,284)"><circle class="g" r="3.6"/><text>Reyranella sp.</text></g>
<g id="h8" transform="translate(1040,296)"><circle class="g" r="3.6"/><text>Reyranella</text></g>
<g id="h9" transform="translate(1043,310)"><circle class="g" r="3.6"/><text>Rhodospirillales Incertae Sedis</text></g>
<g id="h10" transform="translate(1116,270)"><circle class="g" r="3.6"/><text>MND8 sp.</text></g>
<g id="h11" transform="translate(1103,281)"><circle class="g" r="3.6"/><text>MND8</text></g>
<g id="h12" transform="translate(1127,290)"><circle class="G" r="4.2"/><text>JG37-AG-20 sp.</text></g>
<g id="h13" transform="translate(1111,303)"><circle class="G" r="4.2"/><text>JG37-AG-20</text></g>
<g id="h14" transform="translate(1128,313)"><circle class="g" r="3.6"/><text>Rhodospirillales sp.</text></g>
<g id="h15" transform="translate(1099,337)"><circle class="g" r="3.6"/><text>Rhodospirillaceae sp.</text></g>
<g id="h16" transform="translate(1091,352)"><circle class="g" r="3.6"/><text>Rhodospirillaceae</text></g>
<g id="h17" transform="translate(1054,341)"><circle class="G" r="4.2"/><text class="c">DA111</text></g>
<g id="h18" transform="translate(1043,354)"><circle class="G" r="4.2"/><text class="c">DA111 sp.</text></g>
<g id="h19" transform="translate(1086,366)"><circle class="g" r="3.6"/><text>Dongia</text></g>
<g id="h20" transform="translate(1099,378)"><circle class="g" r="3.6"/><text>Dongia sp.</text></g>
<g id="h21" transform="translate(1109,364)"><circle class="g" r="3.6"/><text>Inquilinus</text></g>
<g id="h22" transform="translate(1127,374)"><circle class="g" r="3.6"/><text>Inquilinus sp.</text></g>
<g id="h23" transform="translate(999,317)"><circle class="g" r="3.6"/><text>Caulobacteraceae sp.</text></g>
<g id="h24" transform="translate(995,327)"><circle class="g" r="3.6"/><text>Caulobacteraceae</text></g>
<g id="h25" transform="translate(972,339)"><circle class="g" r="3.6"/><text>Caulobacterales</text></g>
<g id="h26" transform="translate(1003,349)"><circle class="g" r="3.6"/><text>Phenylobacterium</text></g>
<g id="h27" transform="translate(1008,362)"><circle class="g" r="3.6"/><text>Phenylobacterium mobile</text></g>
<g id="h28" transform="translate(955,349)"><circle class="g" r="3.6"/><text>Hyphomonadaceae</text></g>
<g id="h29" transform="translate(957,362)"><circle class="g" r="3.6"/><text>Woodsholea</text></g>
<g id="h30" transform="translate(956,370)"><circle class="g" r="3.6"/><text>Woodsholea sp.</text></g>
<g id="h31" transform="translate(957,385)"><circle class="g" r="3.6"/><text>Mitochondria sp.</text></g>
<g id="h32" transform="translate(967,398)"><circle class="g" r="3.6"/><text>Mitochondria</text></g>
<g id="h33" transform="translate(975,408)"><circle class="g" r="3.6"/><text>Rickettsiales</text></g>
<g id="h34" transform="translate(1059,375)"><circle class="g" r="3.6"/><text>Sphingomonas sp.</text></g>
<g id="h35" transform="translate(1056,389)"><circle class="g" r="3.6"/><text>Sphingomonas</text></g>
<g id="h36" transform="translate(1088,398)"><circle class="P" r="4.2"/><text>Sphingomonas parvus</text></g>
<g id="h37" transform="translate(1050,398)"><circle class="g" r="3.6"/><text>Sphingomonadaceae</text></g>
<g id="h38" transform="translate(1023,408)"><circle class="g" r="3.6"/><text>Sphingomonadales</text></g>
<g id="h39" transform="translate(1083,410)"><circle class="g" r="3.6"/><text>Roseiarcus sp.</text></g>
<g id="h40" transform="translate(1078,420)"><circle class="g" r="3.6"/><text>Roseiarcus</text></g>
<g id="h41" transform="translate(1065,433)"><circle class="g" r="3.6"/><text>Roseiarcaceae</text></g>
<g id="h42" transform="translate(1023,432)"><circle class="g" r="3.6"/><text>Rhodobiaceae sp.</text></g>
<g id="h43" transform="translate(1048,453)"><circle class="g" r="3.6"/><text>Rhodobiaceae</text></g>
<g id="h44" transform="translate(1118,420)"><circle class="g" r="3.6"/><text>Methylovirgula sp.</text></g>
<g id="h45" transform="translate(1092,437)"><circle class="g" r="3.6"/><text>Methylovirgula</text></g>
<g id="h46" transform="translate(1132,432)"><circle class="G" r="4.2"/><text>Beijerinckiaceae sp.</text></g>
<g id="h47" transform="translate(1094,449)"><circle class="G" r="4.2"/><text>Beijerinckiaceae</text></g>
<g id="h48" transform="translate(1130,456)"><circle class="g" r="3.6"/><text>Rhizobium sp.</text></g>
<g id="h49" transform="translate(1112,463)"><circle class="g" r="3.6"/><text>Rhizobium</text></g>
<g id="h50" transform="translate(1092,469)"><circle class="g" r="3.6"/><text>Rhizobiaceae</text></g>
<g id="h51" transform="translate(993,450)"><circle class="g" r="3.6"/><text>A0839 sp.</text></g>
<g id="h52" transform="translate(1013,459)"><circle class="g" r="3.6"/><text>A0839</text></g>
<g id="h53" transform="translate(1007,469)"><circle class="G" r="4.2"/><text>Rhizobiales sp.</text></g>
<g id="h54" transform="translate(969,474)"><circle class="g" r="3.6"/><text>Devosia sp.</text></g>
<g id="h55" transform="translate(989,481)"><circle class="g" r="3.6"/><text>Devosia</text></g>
<g id="h56" transform="translate(1059,483)"><circle class="G" r="6.5"/><text font-size="9" class="k">Rhizobiales</text></g>
<g id="h57" transform="translate(1102,482)"><circle class="g" r="3.6"/><text>KF-JG30-B3</text></g>
<g id="h58" transform="translate(1121,489)"><circle class="g" r="3.6"/><text>KF-JG30-B3 sp.</text></g>
<g id="h59" transform="translate(1013,490)"><circle class="g" r="3.6"/><text font-size="6.2">Hyphomicrobiaceae</text></g>
<g id="h60" transform="translate(979,504)"><circle class="g" r="3.6"/><text>Hyphomicrobium</text></g>
<g id="h61" transform="translate(967,522)"><circle class="g" r="3.6"/><text>Hyphomicrobium sp.</text></g>
<g id="h62" transform="translate(996,514)"><circle class="P" r="4.2"/><text>Rhodomicrobium</text></g>
<g id="h63" transform="translate(987,536)"><circle class="P" r="4.2"/><text>Rhodomicrobium sp.</text></g>
<g id="h64" transform="translate(1025,505)"><circle class="g" r="3.6"/><text>Rhodoplanes</text></g>
<g id="h65" transform="translate(1048,528)"><circle class="g" r="3.6"/><text>Rhodoplanes sp.</text></g>
<g id="h66" transform="translate(1019,519)"><circle class="G" r="4.2"/><text>Pedomicrobium</text></g>
<g id="h67" transform="translate(1024,543)"><circle class="G" r="4.2"/><text>Pedomicrobium sp.</text></g>
<g id="h68" transform="translate(1099,533)"><circle class="g" r="3.6"/><text font-size="6.2">Bradyrhizobiaceae</text></g>
<g id="h69" transform="translate(1092,543)"><circle class="g" r="3.6"/><text font-size="6.2">Bradyrhizobium</text></g>
<g id="h70" transform="translate(1119,561)"><circle class="g" r="3.6"/><text font-size="6.2">Bradyrhizobium sp.</text></g>
<g id="h71" transform="translate(1147,497)"><circle class="G" r="4.2"/><text class="c">Pseudolabrys sp.</text></g>
<g id="h72" transform="translate(1134,507)"><circle class="G" r="4.2"/><text class="c">Pseudolabrys</text></g>
<g id="h73" transform="translate(1124,520)"><circle class="G" r="5.5"/><text font-size="7.8" class="k">Xanthobacteraceae</text></g>
<g id="h74" transform="translate(1183,514)"><circle class="G" r="4.2"/><text class="c">Xanthobacteraceae sp.</text></g>
<g id="h75" transform="translate(1159,529)"><circle class="G" r="4.2"/><text>Variibacter</text></g>
<g id="h76" transform="translate(1174,539)"><circle class="G" r="4.2"/><text>Variibacter sp.</text></g>
<g id="h77" transform="translate(1131,534)"><circle class="g" r="3.6"/><text>Labrys</text></g>
<g id="h78" transform="translate(1132,546)"><circle class="g" r="3.6"/><text>Labrys sp.</text></g>
<g id="h79" transform="translate(1060,553)"><circle class="G" r="4.2"/><text>Rhizobiales Incertae Sedis</text></g>
<g id="h80" transform="translate(1070,564)"><circle class="G" r="4.2"/><text>Rhizomicrobium</text></g>
<g id="h81" transform="translate(1087,576)"><circle class="G" r="4.2"/><text>Rhizomicrobium sp.</text></g>
<g id="h82" transform="translate(1052,573)"><circle class="g" r="3.6"/><text>Nordella</text></g>
<g id="h83" transform="translate(1064,591)"><circle class="g" r="3.6"/><text>Nordella sp.</text></g>
<g id="b1" transform="translate(883,513)"><circle class="g" r="3.6"/><text font-size="6.5">Betaproteobacteria</text></g>
<g id="b2" transform="translate(858,504)"><circle class="P" r="4.2"/><text>Betaproteobacteria sp.</text></g>
<g id="b3" transform="translate(911,522)"><circle class="P" r="4.2"/><text>SC-I-84</text></g>
<g id="b4" transform="translate(925,532)"><circle class="P" r="4.2"/><text>SC-I-84 sp.</text></g>
<g id="b5" transform="translate(837,520)"><circle class="g" r="3.6"/><text>Rhodocyclales</text></g>
<g id="b6" transform="translate(821,531)"><circle class="g" r="3.6"/><text>Rhodocyclaceae</text></g>
<g id="b7" transform="translate(800,544)"><circle class="g" r="3.6"/><text>Rhodocyclaceae sp.</text></g>
<g id="b8" transform="translate(843,541)"><circle class="g" r="3.6"/><text>B1-7BS</text></g>
<g id="b9" transform="translate(825,553)"><circle class="g" r="3.6"/><text>B1-7BS sp.</text></g>
<g id="b10" transform="translate(865,546)"><circle class="g" r="3.6"/><text>Burkholderiales</text></g>
<g id="b11" transform="translate(899,539)"><circle class="g" r="3.6"/><text font-size="6.2">Nitrosomonadales</text></g>
<g id="b12" transform="translate(927,551)"><circle class="g" r="3.6"/><text font-size="6.2">Nitrosomonadaceae</text></g>
<g id="b13" transform="translate(945,562)"><circle class="g" r="3.6"/><text font-size="6.2">Nitrosomonadaceae sp.</text></g>
<g id="b14" transform="translate(832,563)"><circle class="g" r="3.6"/><text>Comamonadaceae</text></g>
<g id="b15" transform="translate(790,572)"><circle class="g" r="3.6"/><text>Comamonadaceae sp.</text></g>
<g id="b16" transform="translate(858,573)"><circle class="g" r="3.6"/><text>Oxalobacteraceae</text></g>
<g id="b17" transform="translate(817,580)"><circle class="g" r="3.6"/><text>Piscinibacter</text></g>
<g id="b18" transform="translate(805,592)"><circle class="g" r="3.6"/><text>Piscinibacter sp.</text></g>
<g id="b19" transform="translate(846,586)"><circle class="g" r="3.6"/><text>Paucimonas</text></g>
<g id="b20" transform="translate(832,597)"><circle class="g" r="3.6"/><text>Paucimonas sp.</text></g>
<g id="b21" transform="translate(892,563)"><circle class="g" r="3.6"/><text>Alcaligenaceae</text></g>
<g id="b22" transform="translate(898,582)"><circle class="g" r="3.6"/><text>Alcaligenaceae sp.</text></g>
<g id="b23" transform="translate(865,606)"><circle class="g" r="3.6"/><text>Burkholderiaceae</text></g>
<g id="b24" transform="translate(826,616)"><circle class="g" r="3.6"/><text>Burkholderia-Paraburkholderia</text></g>
<g id="b25" transform="translate(825,626)"><circle class="g" r="3.6"/><text>Burkholderia-Paraburkholderia sp.</text></g>
<g id="b26" transform="translate(886,635)"><circle class="g" r="3.6"/><text>Cupriavidus</text></g>
<g id="b27" transform="translate(892,647)"><circle class="g" r="3.6"/><text>Cupriavidus sp.</text></g>
<g id="x1" transform="translate(621,614)"><circle class="G" r="5.5"/><text font-size="7">Chloroflexi</text></g>
<g id="x2" transform="translate(638,587)"><circle class="P" r="4.2"/><text>KD4-96 sp.</text></g>
<g id="x3" transform="translate(632,600)"><circle class="P" r="4.2"/><text>KD4-96</text></g>
<g id="x4" transform="translate(664,597)"><circle class="g" r="3.6"/><text>Chloroflexi sp.</text></g>
<g id="x5" transform="translate(563,595)"><circle class="g" r="3.6"/><text>JG30-KF-CM66 sp.</text></g>
<g id="x6" transform="translate(582,604)"><circle class="g" r="3.6"/><text>JG30-KF-CM66</text></g>
<g id="x7" transform="translate(565,618)"><circle class="g" r="3.6"/><text>SJA-15</text></g>
<g id="x8" transform="translate(545,626)"><circle class="g" r="3.6"/><text>SJA-15 sp.</text></g>
<g id="x9" transform="translate(598,624)"><circle class="G" r="4.2"/><text>TK10</text></g>
<g id="x10" transform="translate(579,633)"><circle class="G" r="4.2"/><text>TK10 sp.</text></g>
<g id="x11" transform="translate(582,648)"><circle class="G" r="4.2"/><text>Thermomicrobia</text></g>
<g id="x12" transform="translate(578,660)"><circle class="G" r="4.2"/><text>JG30-KF-CM45</text></g>
<g id="x13" transform="translate(573,673)"><circle class="G" r="4.2"/><text>JG30-KF-CM45 sp.</text></g>
<g id="x14" transform="translate(646,621)"><circle class="P" r="4.2"/><text>Anaerolineae</text></g>
<g id="x15" transform="translate(671,633)"><circle class="P" r="4.2"/><text>Anaerolineales</text></g>
<g id="x16" transform="translate(682,619)"><circle class="P" r="4.2"/><text>Anaerolineaceae</text></g>
<g id="x17" transform="translate(702,609)"><circle class="g" r="3.6"/><text>Anaerolinea</text></g>
<g id="x18" transform="translate(703,593)"><circle class="g" r="3.6"/><text>Anaerolinea sp.</text></g>
<g id="x19" transform="translate(715,628)"><circle class="g" r="3.6"/><text>Anaerolineaceae sp.</text></g>
<g id="x20" transform="translate(627,648)"><circle class="g" r="3.6"/><text>S085</text></g>
<g id="x21" transform="translate(627,678)"><circle class="g" r="3.6"/><text>S085 sp.</text></g>
<g id="x22" transform="translate(641,658)"><circle class="g" r="3.6"/><text>SBR2076</text></g>
<g id="x23" transform="translate(653,672)"><circle class="g" r="3.6"/><text>SBR2076 sp.</text></g>
<g id="x24" transform="translate(679,661)"><circle class="G" r="4.2"/><text>JG37-AG-4</text></g>
<g id="x25" transform="translate(697,674)"><circle class="G" r="4.2"/><text>JG37-AG-4 sp.</text></g>
<g id="x26" transform="translate(682,690)"><circle class="g" r="3.6"/><text>Chloroflexia</text></g>
<g id="x27" transform="translate(697,703)"><circle class="g" r="3.6"/><text>Chloroflexales</text></g>
<g id="x28" transform="translate(702,719)"><circle class="g" r="3.6"/><text>Roseiflexaceae</text></g>
<g id="x29" transform="translate(707,733)"><circle class="g" r="3.6"/><text>Roseiflexus</text></g>
<g id="x30" transform="translate(722,748)"><circle class="g" r="3.6"/><text>Roseiflexus sp.</text></g>
<g id="x31" transform="translate(611,698)"><circle class="G" r="4.6"/><text font-size="6.2">Ktedonobacteria</text></g>
<g id="x32" transform="translate(581,689)"><circle class="g" r="3.6"/><text>Ktedonobacteria sp.</text></g>
<g id="x33" transform="translate(640,691)"><circle class="g" r="3.6"/><text>JG30-KF-AS9</text></g>
<g id="x34" transform="translate(663,703)"><circle class="g" r="3.6"/><text>JG30-KF-AS9 sp.</text></g>
<g id="x35" transform="translate(627,709)"><circle class="g" r="3.6"/><text>C0119</text></g>
<g id="x36" transform="translate(633,724)"><circle class="g" r="3.6"/><text>C0119 sp.</text></g>
<g id="x37" transform="translate(570,705)"><circle class="g" r="3.6"/><text>Thermogemmatisporales</text></g>
<g id="x38" transform="translate(560,718)"><circle class="g" r="3.6"/><text>1921-2</text></g>
<g id="x39" transform="translate(557,733)"><circle class="g" r="3.6"/><text>1921-2 sp.</text></g>
<g id="x40" transform="translate(594,714)"><circle class="g" r="3.6"/><text>B12-WMSP1</text></g>
<g id="x41" transform="translate(588,728)"><circle class="g" r="3.6"/><text>B12-WMSP1 sp.</text></g>
<g id="x42" transform="translate(629,760)"><circle class="G" r="4.6"/><text font-size="6.2">Ktedonobacterales</text></g>
<g id="x43" transform="translate(587,750)"><circle class="g" r="3.6"/><text>1959-1 sp.</text></g>
<g id="x44" transform="translate(603,750)"><circle class="g" r="3.6"/><text>1959-1</text></g>
<g id="x45" transform="translate(657,738)"><circle class="g" r="3.6"/><text>Ktedonobacteraceae sp.</text></g>
<g id="x46" transform="translate(656,749)"><circle class="g" r="3.6"/><text>Ktedonobacteraceae</text></g>
<g id="x47" transform="translate(684,757)"><circle class="g" r="3.6"/><text>Ktedonobacter</text></g>
<g id="x48" transform="translate(712,765)"><circle class="g" r="3.6"/><text>Ktedonobacter sp.</text></g>
<g id="x49" transform="translate(667,771)"><circle class="g" r="3.6"/><text>Thermosporotrichaceae</text></g>
<g id="x50" transform="translate(692,781)"><circle class="g" r="3.6"/><text>Thermosporotrichaceae sp.</text></g>
<g id="x51" transform="translate(588,770)"><circle class="g" r="3.6"/><text>Ktedonobacterales sp.</text></g>
<g id="x52" transform="translate(593,783)"><circle class="g" r="3.6"/><text font-size="6.2">HSB OF53-F07</text></g>
<g id="x53" transform="translate(584,796)"><circle class="g" r="3.6"/><text font-size="6.2">HSB OF53-F07 sp.</text></g>
<g id="x54" transform="translate(617,789)"><circle class="g" r="3.6"/><text>1921-3</text></g>
<g id="x55" transform="translate(613,808)"><circle class="g" r="3.6"/><text>1921-3 sp.</text></g>
<g id="x56" transform="translate(657,789)"><circle class="g" r="3.6"/><text>BacC-u-018</text></g>
<g id="x57" transform="translate(678,801)"><circle class="g" r="3.6"/><text>BacC-u-018 sp.</text></g>
<g id="x58" transform="translate(640,801)"><circle class="g" r="3.6"/><text>FCPS473</text></g>
<g id="x59" transform="translate(644,816)"><circle class="g" r="3.6"/><text>FCPS473 sp.</text></g>
<g id="v1" transform="translate(512,309)"><circle class="G" r="5.5"/><text font-size="9" class="k">Verrucomicrobia</text></g>
<g id="v2" transform="translate(497,294)"><circle class="g" r="3.6"/><text>Opitutae</text></g>
<g id="v3" transform="translate(495,276)"><circle class="g" r="3.6"/><text>Opitutales</text></g>
<g id="v4" transform="translate(494,265)"><circle class="g" r="3.6"/><text>Opitutaceae</text></g>
<g id="v5" transform="translate(490,251)"><circle class="g" r="3.6"/><text>Opitutus</text></g>
<g id="v6" transform="translate(499,235)"><circle class="g" r="3.6"/><text>Opitutus sp.</text></g>
<g id="v7" transform="translate(543,297)"><circle class="G" r="5.5"/><text font-size="8.4" class="k">Spartobacteria</text></g>
<g id="v8" transform="translate(568,281)"><circle class="G" r="5.5"/><text font-size="8.6" class="k">Chthoniobacterales</text></g>
<g id="v9" transform="translate(555,267)"><circle class="G" r="5.5"/><text font-size="8" class="k">DA101 soil group</text></g>
<g id="v10" transform="translate(550,252)"><circle class="G" r="5.5"/><text font-size="8" class="k">DA101 soil group sp.</text></g>
<g id="v11" transform="translate(593,242)"><circle class="g" r="3.6"/><text>Chthoniobacteraceae</text></g>
<g id="v12" transform="translate(593,231)"><circle class="g" r="3.6"/><text>Chthoniobacter</text></g>
<g id="v13" transform="translate(594,216)"><circle class="g" r="3.6"/><text>Chthoniobacter sp.</text></g>
<g id="v14" transform="translate(613,275)"><circle class="g" r="3.6"/><text>Xiphinematobacteraceae</text></g>
<g id="v15" transform="translate(617,261)"><circle class="g" r="3.6"/><text>Candidatus Xiphinematobacter</text></g>
<g id="v16" transform="translate(632,252)"><circle class="g" r="3.6"/><text>Candidatus Xiphinematobacter sp.</text></g>
<g id="v17" transform="translate(592,292)"><circle class="g" r="3.6"/><text>Chthoniobacterales sp.</text></g>
<g id="v18" transform="translate(540,321)"><circle class="g" r="3.6"/><text>OPB35 soil group</text></g>
<g id="v19" transform="translate(556,334)"><circle class="g" r="3.6"/><text>OPB35 soil group sp.</text></g>
<g id="o1" transform="translate(518,363)"><circle class="g" r="3.6"/><text>TM6 (Dependentiae)</text></g>
<g id="o2" transform="translate(553,354)"><circle class="g" r="3.6"/><text>TM6 (Dependentiae) sp.</text></g>
<g id="o3" transform="translate(523,371)"><circle class="g" r="3.6"/><text>Saccharibacteria</text></g>
<g id="o4" transform="translate(582,352)"><circle class="g" r="3.6"/><text>Saccharibacteria sp.</text></g>
<g id="e1" transform="translate(635,368)"><circle class="g" r="3.6"/><text>Bacteroidetes</text></g>
<g id="e2" transform="translate(667,367)"><circle class="g" r="3.6"/><text>Cytophagia</text></g>
<g id="e3" transform="translate(650,349)"><circle class="g" r="3.6"/><text>Cytophagales</text></g>
<g id="e4" transform="translate(683,343)"><circle class="g" r="3.6"/><text>Cytophagaceae</text></g>
<g id="e5" transform="translate(697,333)"><circle class="g" r="3.6"/><text>Adhaeribacter</text></g>
<g id="e6" transform="translate(724,331)"><circle class="g" r="3.6"/><text>Adhaeribacter sp.</text></g>
<g id="e7" transform="translate(725,355)"><circle class="g" r="3.6"/><text>Cytophagaceae sp.</text></g>
<g id="e8" transform="translate(640,342)"><circle class="g" r="3.6"/><text>Sphingobacteria</text></g>
<g id="e9" transform="translate(645,329)"><circle class="g" r="3.6"/><text>Sphingobacteriales</text></g>
<g id="e10" transform="translate(645,314)"><circle class="g" r="3.6"/><text>Chitinophagaceae</text></g>
<g id="e11" transform="translate(693,322)"><circle class="g" r="3.6"/><text>Chitinophagaceae sp.</text></g>
<g id="e12" transform="translate(666,294)"><circle class="g" r="3.6"/><text>Flavihumibacter</text></g>
<g id="e13" transform="translate(669,282)"><circle class="g" r="3.6"/><text>Flavihumibacter sp.</text></g>
<g id="e14" transform="translate(685,301)"><circle class="g" r="3.6"/><text>Terrimonas</text></g>
<g id="e15" transform="translate(713,293)"><circle class="g" r="3.6"/><text>Terrimonas sp.</text></g>
<g id="e16" transform="translate(632,378)"><circle class="g" r="3.6"/><text>Flavobacteria</text></g>
<g id="e17" transform="translate(635,388)"><circle class="g" r="3.6"/><text>Flavobacteriales</text></g>
<g id="e18" transform="translate(623,398)"><circle class="g" r="3.6"/><text>Flavobacteriaceae</text></g>
<g id="e19" transform="translate(590,387)"><circle class="g" r="3.6"/><text>Flavobacterium</text></g>
<g id="e20" transform="translate(558,393)"><circle class="g" r="3.6"/><text>Flavobacterium sp.</text></g>
<g id="n1" transform="translate(437,263)"><circle class="g" r="3.6"/><text>Nitrospirae</text></g>
<g id="n2" transform="translate(443,251)"><circle class="g" r="3.6"/><text>Nitrospiria</text></g>
<g id="n3" transform="translate(448,233)"><circle class="g" r="3.6"/><text>Nitrospirales</text></g>
<g id="n4" transform="translate(478,224)"><circle class="G" r="4.2"/><text>Nitrospiraceae</text></g>
<g id="n5" transform="translate(488,211)"><circle class="G" r="4.2"/><text>Nitrospira</text></g>
<g id="n6" transform="translate(511,203)"><circle class="G" r="4.2"/><text>Nitrospira sp.</text></g>
<g id="n7" transform="translate(487,193)"><circle class="g" r="3.6"/><text>Nitrospira japonica</text></g>
<g id="n8" transform="translate(453,213)"><circle class="g" r="3.6"/><text>Sh765B-TzT-35</text></g>
<g id="n9" transform="translate(448,197)"><circle class="g" r="3.6"/><text>Sh765B-TzT-35 sp.</text></g>
<g id="n10" transform="translate(427,227)"><circle class="g" r="3.6"/><text font-size="6.2">0319-6A21</text></g>
<g id="n11" transform="translate(413,213)"><circle class="g" r="3.6"/><text font-size="6.2">0319-6A21 sp.</text></g>
<g id="k1" transform="translate(403,248)"><circle class="g" r="3.6"/><text>Armatimonadetes</text></g>
<g id="k2" transform="translate(366,257)"><circle class="g" r="3.6"/><text>Armatimonadetes sp.</text></g>
<g id="k3" transform="translate(389,186)"><circle class="g" r="3.6"/><text>Chthonomonadetes</text></g>
<g id="k4" transform="translate(394,173)"><circle class="g" r="3.6"/><text>Chthonomonadales</text></g>
<g id="k5" transform="translate(366,166)"><circle class="g" r="3.6"/><text>Chthonomonadales sp.</text></g>
<g id="k6" transform="translate(405,158)"><circle class="g" r="3.6"/><text>Chthonomonadaceae</text></g>
<g id="k7" transform="translate(406,143)"><circle class="g" r="3.6"/><text>Chthonomonas</text></g>
<g id="k8" transform="translate(410,123)"><circle class="g" r="3.6"/><text>Chthonomonas sp.</text></g>
<g id="k9" transform="translate(376,235)"><circle class="g" r="3.6"/><text>Fimbriimonadia</text></g>
<g id="k10" transform="translate(370,222)"><circle class="g" r="3.6"/><text>Fimbriimonadales</text></g>
<g id="k11" transform="translate(365,207)"><circle class="g" r="3.6"/><text>Fimbriimonadaceae</text></g>
<g id="k12" transform="translate(358,192)"><circle class="g" r="3.6"/><text>Fimbriimonadaceae sp.</text></g>
<g id="k13" transform="translate(397,296)"><circle class="g" r="3.6"/><text>Tectomicrobia</text></g>
<g id="k14" transform="translate(387,280)"><circle class="g" r="3.6"/><text>Tectomicrobia sp.</text></g>
<g id="k15" transform="translate(455,298)"><circle class="G" r="4.2"/><text>GAL15</text></g>
<g id="k16" transform="translate(462,286)"><circle class="G" r="4.2"/><text>GAL15 sp.</text></g>
<g id="k17" transform="translate(434,336)"><circle class="G" r="4.2"/><text>Bacteria sp.</text></g>
<g id="pb" transform="translate(885,476)"><circle class="G" r="9"/><text font-size="14" class="k">Proteobacteria</text></g>
<g id="bac" transform="translate(446,385)"><circle class="g" r="19"/><text font-size="38" class="k" x="-3" y="3">Bacteria</text></g>
</g>
<g id="legend">
<text x="932" y="624" font-size="12.5" font-weight="bold">Significant Enrichment (p&lt;0.05)</text>
<circle class="G" cx="942" cy="638" r="12"/><text x="955" y="643" font-size="12.4">Forest</text>
<circle class="P" cx="941" cy="664" r="12"/><text x="955" y="668" font-size="12.4">Pasture</text>
<circle cx="941" cy="691" r="12" fill="#bdbdbd"/><text x="955" y="696" font-size="12.4">None</text>
</g>
</svg>
